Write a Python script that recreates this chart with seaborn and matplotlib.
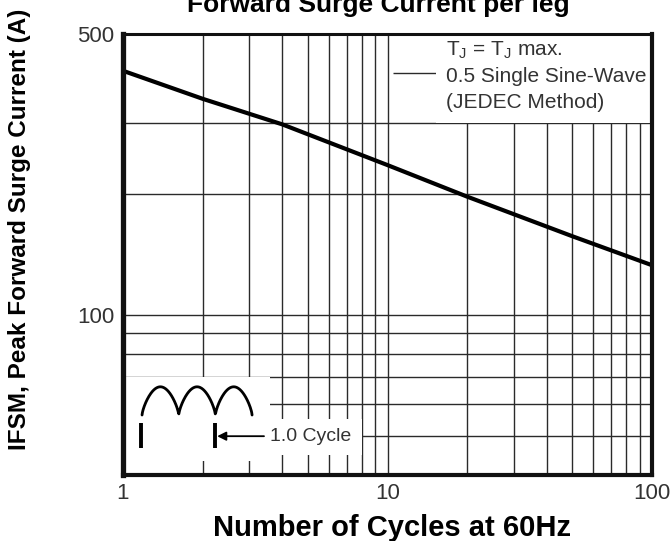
import matplotlib
matplotlib.use("Agg")
import matplotlib.pyplot as plt
from matplotlib.patches import Rectangle
import numpy as np
import pandas as pd
import seaborn as sns

# surge curve (log-log)
cycles = [1, 2, 4, 10, 20, 50, 100]
surge_current = [405, 345, 298, 236, 197, 157, 133]

x_major = [1, 10, 100]
x_minor = [2, 3, 4, 5, 6, 7, 8, 9, 20, 30, 40, 50, 60, 70, 80, 90]
y_major = [100, 500]
y_minor = [50, 60, 70, 80, 90, 200, 300]

note_lines = [
    r"T$_\mathregular{J}$ = T$_\mathregular{J}$ max.",
    "0.5 Single Sine-Wave",
    "(JEDEC Method)",
]

sns.set_theme(style="white")
plt.rcParams["font.family"] = ["Liberation Sans", "DejaVu Sans"]
plt.rcParams["mathtext.fontset"] = "custom"
plt.rcParams["mathtext.rm"] = "Liberation Sans"

GRID = "#2a2a2a"
TXT = "#333333"

fig = plt.figure(figsize=(6.70, 5.41), dpi=100)
ax = fig.add_axes([123 / 670, 1 - 475 / 541, 529 / 670, 441 / 541])

df = pd.DataFrame({"cycles": cycles, "current": surge_current})
sns.lineplot(data=df, x="cycles", y="current", ax=ax, color="black",
             linewidth=3.0, zorder=5)

ax.set_xscale("log")
ax.set_yscale("log")
ax.set_xlim(1, 100)
ax.set_ylim(40, 500)

ax.set_xticks(x_major)
ax.set_xticks(x_minor, minor=True)
ax.set_xticklabels([str(v) for v in x_major])
ax.set_yticks(y_major)
ax.set_yticks(y_minor, minor=True)
ax.set_yticklabels([str(v) for v in y_major])
ax.tick_params(which="both", length=0)
ax.tick_params(which="major", labelsize=16, labelcolor=TXT, pad=6)
ax.tick_params(which="minor", labelleft=False, labelbottom=False)
ax.grid(which="both", color=GRID, linewidth=1.0, zorder=1)
ax.hlines(400, 10.5, 15.3, color=GRID, linewidth=1.0, zorder=1)

# white areas where the datasheet blanks the grid
ax.add_patch(Rectangle((15.3, 300), 100 - 15.3, 200, facecolor="white",
                       edgecolor="none", zorder=2))
ax.add_patch(Rectangle((1, 43.3), 3.6 - 1, 70 - 43.3, facecolor="white",
                       edgecolor="none", zorder=2))
ax.add_patch(Rectangle((3.6, 44.9), 8.0 - 3.6, 55.0 - 44.9, facecolor="white",
                       edgecolor="none", zorder=2))

for i, line in enumerate(note_lines):
    ax.text(0.611, 0.964 - i * 0.060, line, transform=ax.transAxes,
            fontsize=15, color=TXT, va="center", ha="left", zorder=6)

# half-sine sketch
t = np.linspace(0, 3, 300)
hump_x = 0.036 + t * (0.208 / 3)
hump_y = 0.136 + 0.064 * np.abs(np.sin(np.pi * t)) ** 0.7
ax.plot(hump_x, hump_y, transform=ax.transAxes, color="black", lw=2.0,
        zorder=6)
for bx in (0.034, 0.174):
    ax.plot([bx, bx], [0.061, 0.118], transform=ax.transAxes, color="black",
            lw=2.8, solid_capstyle="butt", zorder=6)
ax.annotate("1.0 Cycle", xy=(0.178, 0.088), xycoords="axes fraction",
            xytext=(0.278, 0.088), textcoords="axes fraction",
            fontsize=14, color=TXT, va="center", ha="left", zorder=6,
            arrowprops=dict(arrowstyle="-|>", color="black", lw=1.3,
                            shrinkA=2, shrinkB=0, mutation_scale=13))

for side, lw in (("left", 3.8), ("bottom", 3.0), ("right", 3.0), ("top", 2.2)):
    ax.spines[side].set_linewidth(lw)
    ax.spines[side].set_color("#111111")
    ax.spines[side].set_zorder(8)

ax.set_xlabel("")
ax.set_ylabel("")
fig.text(392 / 670, 1 - 528 / 541, "Number of Cycles at 60Hz", ha="center",
         va="center", fontsize=21, fontweight="bold", color="black")
fig.text(20 / 670, 1 - 229 / 541, "IFSM, Peak Forward Surge Current (A)",
         ha="center", va="center", rotation=90, fontsize=17.5,
         fontweight="bold", color="black")
fig.text(378 / 670, 1 - 12 / 541, "Forward Surge Current per leg",
         ha="center", va="baseline", fontsize=19, fontweight="bold",
         color="black")

fig.savefig("out.png", dpi=100)
